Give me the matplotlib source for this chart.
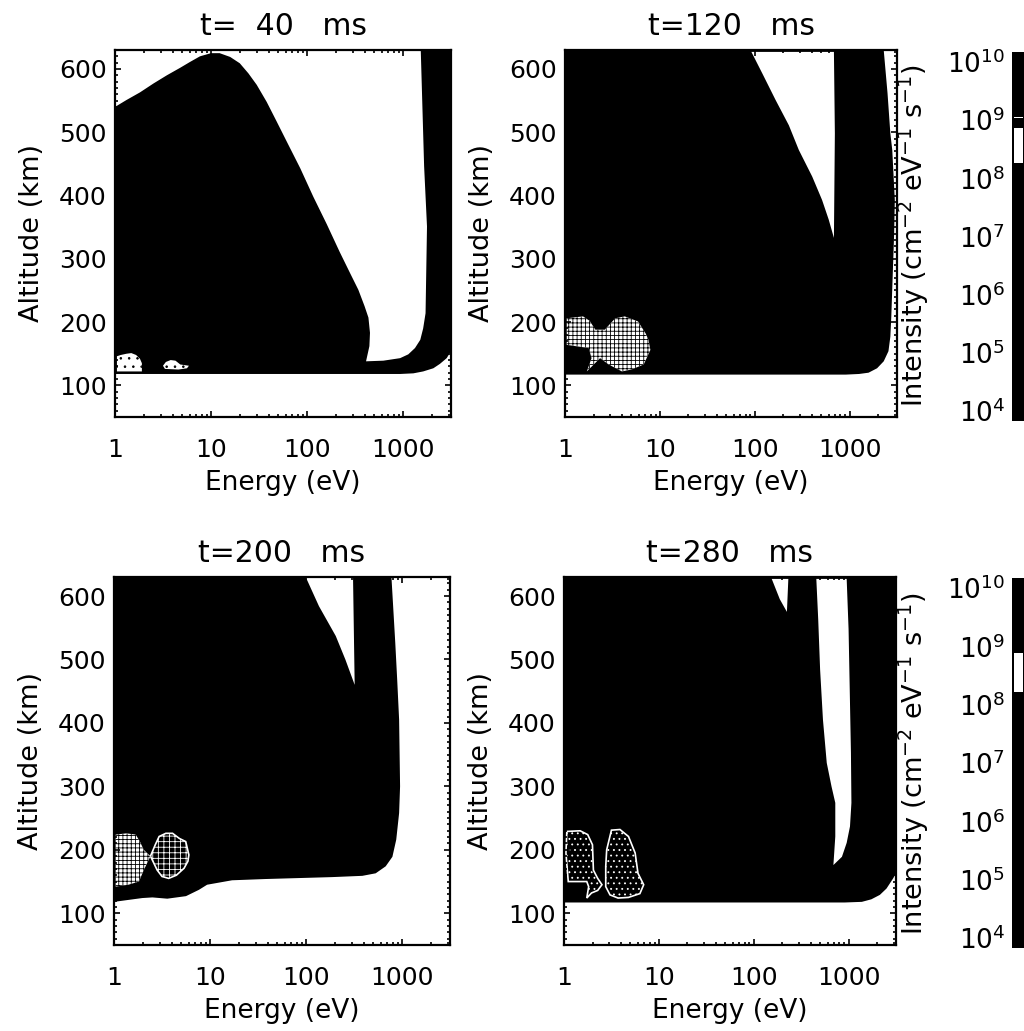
import numpy as np
import matplotlib
matplotlib.use('Agg')
import matplotlib.pyplot as plt
from matplotlib.ticker import FixedLocator, FixedFormatter, MultipleLocator, LogLocator, NullFormatter

W, H = 1024, 1031

# panels: black area outline, white holes, speckled blobs  (log10 energy, altitude km)
titles = ['t=  40   ms', 't=120   ms', 't=200   ms', 't=280   ms']

p1_log = [0, .12, .26, .40, .54, .68, .78, .885, 1, 1.09, 1.2, 1.30, 1.39, 1.476, 1.58, 1.684, 1.79, 1.93,
          2.066, 2.205, 2.34, 2.45, 2.535, 2.60, 2.64, 2.656, 2.65, 2.615,
          2.795, 2.97, 3.055, 3.125, 3.18, 3.21, 3.235, 3.25, 3.22, 3.185,
          3.5, 3.5, 3.455, 3.385, 3.316, 3.21, 3.108, 2.97, 0]
p1_alt = [540, 551, 563, 577, 590, 602, 611, 620, 625, 625, 619, 609, 593, 575, 548, 517, 485, 443,
          398, 355, 311, 277, 251, 225, 207, 183, 162, 138,
          139, 143, 149, 159, 172, 190, 214, 351, 446, 630,
          630, 154, 143, 134, 127, 122, 119, 118, 118]
p1_blob_a_log = [.02, .06, .12, .17, .22, .26, .28, .28, .02]
p1_blob_a_alt = [146, 148, 150, 151, 148, 142, 135, 122, 122]
p1_blob_b_log = [.50, .53, .58, .63, .68, .77, .75, .66, .52]
p1_blob_b_alt = [131, 137, 140, 139, 133, 131, 127, 125, 126]

p2_log = [0, 2.96, 3.1, 3.2, 3.29, 3.36, 3.41, 3.43, 3.44, 3.47, 3.477, 3.45, 3.43, 3.40, 3.36, 0]
p2_alt = [117, 117, 118, 120, 127, 138, 154, 177, 209, 340, 393, 472, 498, 562, 630, 630]
p2_hole_log = [1.965, 2.835, 2.845, 2.835, 2.78, 2.71, 2.606, 2.465, 2.36, 2.22, 2.08]
p2_hole_alt = [627, 627, 498, 333, 362, 393, 430, 472, 511, 551, 593]
p2_blob_log = [.018, .19, .26, .32, .42, .48, .53, .63, .77, .85, .88, .90, .83, .70, .60, .46, .37, .23, .28, .25, .018]
p2_blob_alt = [206, 209, 202, 188, 188, 198, 206, 209, 201, 182, 172, 156, 133, 125, 122, 133, 143, 122, 143, 159, 164]

p3_log = [0, .295, .4, .555, .75, .885, .97, 1.23, 1.58, 2.27, 2.587, 2.726, 2.83, 2.9, 2.94, 2.97, 2.98, 2.97, 2.95, 2.93, 2.89, 0]
p3_alt = [118, 124, 125, 123, 127, 137, 145, 152, 154, 157, 159, 163, 174, 189, 216, 258, 300, 405, 468, 526, 630, 630]
p3_hole_log = [2.0, 2.49, 2.507, 2.41, 2.31, 2.135]
p3_hole_alt = [629, 629, 460, 500, 537, 584]
p3_blob_a_log = [.017, .13, .226, .27, .31, .38, .31, .26, .15, .017]
p3_blob_a_alt = [224, 226, 224, 213, 200, 190, 168, 150, 145, 142]
p3_blob_b_log = [.38, .43, .47, .54, .61, .68, .747, .78, .77, .73, .65, .57, .50, .45]
p3_blob_b_alt = [190, 208, 221, 226, 226, 218, 213, 192, 182, 171, 160, 155, 158, 168]

p4_log = [0, 2.96, 3.14, 3.24, 3.33, 3.40, 3.47, 3.5, 3.5, 0]
p4_alt = [117, 117, 118, 122, 129, 139, 155, 163, 630, 630]
p4_hole_a_log = [2.19, 2.365, 2.35, 2.275]
p4_hole_a_alt = [627, 627, 575, 595]
p4_hole_b_log = [2.66, 2.98, 3.0, 3.025, 3.03, 3.015, 2.98, 2.93, 2.84, 2.86, 2.86, 2.82, 2.77, 2.73, 2.70, 2.68]
p4_hole_b_alt = [627, 627, 548, 353, 274, 237, 211, 189, 176, 221, 274, 300, 337, 405, 484, 563]
p4_blob_a_log = [.02, .03, .17, .25, .30, .31, .355, .40, .355, .29, .24, .26, .24, .045]
p4_blob_a_alt = [195, 229, 230, 224, 208, 168, 155, 145, 136, 132, 124, 142, 150, 150]
p4_blob_b_log = [.50, .59, .68, .75, .78, .84, .80, .68, .57, .485, .44, .44, .45]
p4_blob_b_alt = [231, 232, 221, 195, 163, 145, 131, 125, 124, 129, 142, 174, 200]

# colour bars
bar_exponents = [4, 5, 6, 7, 8, 9, 10]
bar1_white = [(9.03, 9.06), (8.26, 8.86)]
bar2_white = [(8.22, 8.89)]

plt.rcParams['font.family'] = 'DejaVu Sans'
plt.rcParams['font.size'] = 18
plt.rcParams['mathtext.default'] = 'regular'
plt.rcParams['hatch.linewidth'] = 0.6

fig = plt.figure(figsize=(W / 100, H / 100), dpi=100, facecolor='white')


def px_axes(l, t, r, b):
    return fig.add_axes([l / W, 1 - b / H, (r - l) / W, (b - t) / H])


def black_area(ax, logs, alts, color='black'):
    ax.fill(10 ** np.array(logs, dtype=float), alts, facecolor=color, edgecolor='none', zorder=1)


def blob(ax, logs, alts, hatch='++++', mostly_white=True):
    x = 10 ** np.array(logs, dtype=float)
    if mostly_white:
        ax.fill(x, alts, facecolor='white', edgecolor='none', zorder=1.2)
        ax.fill(x, alts, facecolor='none', edgecolor='black', hatch=hatch, linewidth=0, zorder=1.3)
    else:
        ax.fill(x, alts, facecolor='black', edgecolor='white', hatch=hatch, linewidth=1.2, zorder=1.2)


def setup(ax, title):
    ax.set_xscale('log')
    ax.set_xlim(1, 10 ** 3.5)
    ax.set_ylim(50, 630)
    ax.xaxis.set_major_locator(FixedLocator([1, 10, 100, 1000]))
    ax.xaxis.set_major_formatter(FixedFormatter(['1', '10', '100', '1000']))
    ax.xaxis.set_minor_locator(LogLocator(base=10, subs=np.arange(2, 10)))
    ax.xaxis.set_minor_formatter(NullFormatter())
    ax.yaxis.set_major_locator(MultipleLocator(100))
    ax.yaxis.set_minor_locator(MultipleLocator(10))
    ax.tick_params(which='major', direction='in', top=True, right=True, length=4, width=1.2)
    ax.tick_params(which='minor', direction='in', top=True, right=True, length=2, width=1.2)
    ax.tick_params(axis='x', which='major', pad=15, labelsize=18)
    ax.tick_params(axis='y', which='major', pad=6, labelsize=18)
    for s in ax.spines.values():
        s.set_linewidth(1.6)
    ax.set_title(title, fontsize=21.5, pad=11)
    ax.set_xlabel('Energy (eV)', fontsize=19, labelpad=6)
    ax.set_ylabel('Altitude (km)', fontsize=19.5, labelpad=10)


ax1 = px_axes(115, 50, 451, 417)
black_area(ax1, p1_log, p1_alt)
blob(ax1, p1_blob_a_log, p1_blob_a_alt, hatch='..')
blob(ax1, p1_blob_b_log, p1_blob_b_alt, hatch='..')
setup(ax1, titles[0])

ax2 = px_axes(565, 50, 897, 417)
black_area(ax2, p2_log, p2_alt)
black_area(ax2, p2_hole_log, p2_hole_alt, 'white')
blob(ax2, p2_blob_log, p2_blob_alt)
setup(ax2, titles[1])

ax3 = px_axes(114, 577, 450, 945)
black_area(ax3, p3_log, p3_alt)
black_area(ax3, p3_hole_log, p3_hole_alt, 'white')
blob(ax3, p3_blob_a_log, p3_blob_a_alt)
blob(ax3, p3_blob_b_log, p3_blob_b_alt, hatch='+++', mostly_white=False)
setup(ax3, titles[2])

ax4 = px_axes(564, 577, 896, 945)
black_area(ax4, p4_log, p4_alt)
black_area(ax4, p4_hole_a_log, p4_hole_a_alt, 'white')
black_area(ax4, p4_hole_b_log, p4_hole_b_alt, 'white')
blob(ax4, p4_blob_a_log, p4_blob_a_alt, hatch='...', mostly_white=False)
blob(ax4, p4_blob_b_log, p4_blob_b_alt, hatch='...', mostly_white=False)
setup(ax4, titles[3])

intensity = r'Intensity (cm$^{-2}$ eV$^{-1}$ s$^{-1}$)'
fig.text(914 / W, 1 - 236 / H, intensity, rotation=90, ha='center', va='center', fontsize=19.5)
fig.text(914 / W, 1 - 764 / H, intensity, rotation=90, ha='center', va='center', fontsize=19.5)


def colour_bar(l, t, b, white):
    ax = px_axes(l, t, W, b)
    ax.set_facecolor('black')
    ax.set_yscale('log')
    ax.set_ylim(10 ** 3.83, 10 ** 10.17)
    ax.set_xticks([])
    for lo, hi in white:
        ax.axhspan(10 ** lo, 10 ** hi, xmin=0.2, xmax=0.92, color='white', linewidth=0)
    ax.yaxis.set_major_locator(FixedLocator([10.0 ** e for e in bar_exponents]))
    ax.yaxis.set_major_formatter(FixedFormatter(['$10^{%d}$' % e for e in bar_exponents]))
    ax.yaxis.set_minor_locator(FixedLocator([]))
    ax.tick_params(axis='y', length=0, pad=5, labelsize=19)
    for s in ax.spines.values():
        s.set_visible(False)


colour_bar(1012, 52, 421, bar1_white)
colour_bar(1012, 578, 948, bar2_white)

fig.savefig('out.png', dpi=100)
